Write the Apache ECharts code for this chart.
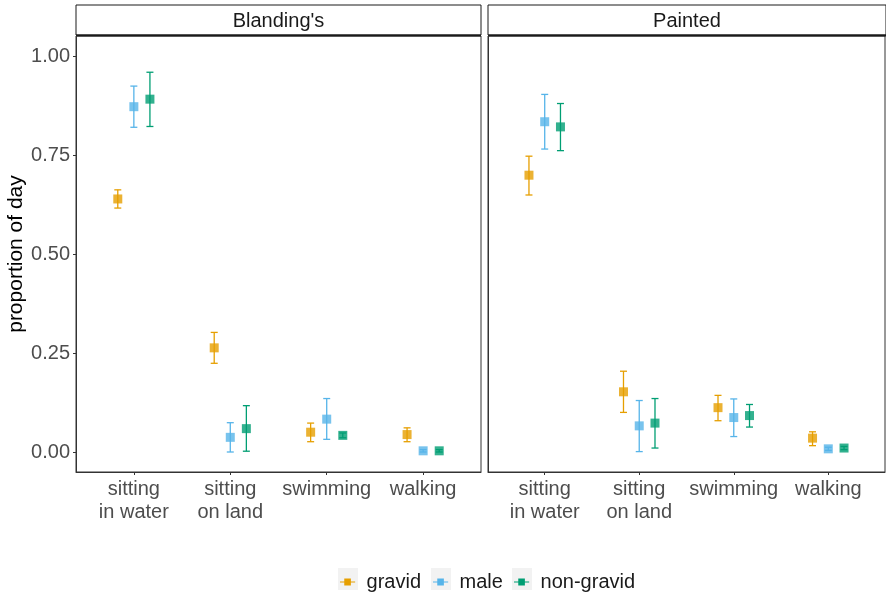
<!DOCTYPE html>
<html>
<head>
<meta charset="utf-8">
<script src="https://cdn.jsdelivr.net/npm/echarts@6/dist/echarts.min.js"></script>
<style>
  html, body { margin: 0; padding: 0; background: #fff; }
  #chart { width: 886px; height: 595px; }
</style>
</head>
<body>
<div id="chart"></div>
<script>
// 数据
var categories = ['sitting\nin water', 'sitting\non land', 'swimming', 'walking'];
var yTicks = [0, 0.25, 0.5, 0.75, 1];
var groups = ['gravid', 'male', 'non-gravid'];
var species = ["Blanding's", 'Painted'];

var blandingGravidMean = [0.639, 0.263, 0.050, 0.044];
var blandingGravidLow = [0.616, 0.224, 0.026, 0.026];
var blandingGravidHigh = [0.662, 0.302, 0.073, 0.061];
var blandingMaleMean = [0.872, 0.037, 0.083, 0.003];
var blandingMaleLow = [0.820, 0.000, 0.032, 0.000];
var blandingMaleHigh = [0.924, 0.074, 0.135, 0.006];
var blandingNonGravidMean = [0.891, 0.059, 0.042, 0.003];
var blandingNonGravidLow = [0.822, 0.002, 0.036, 0.000];
var blandingNonGravidHigh = [0.959, 0.117, 0.048, 0.006];

var paintedGravidMean = [0.699, 0.152, 0.112, 0.035];
var paintedGravidLow = [0.649, 0.100, 0.079, 0.016];
var paintedGravidHigh = [0.747, 0.204, 0.143, 0.051];
var paintedMaleMean = [0.834, 0.066, 0.087, 0.008];
var paintedMaleLow = [0.765, 0.001, 0.039, 0.004];
var paintedMaleHigh = [0.903, 0.130, 0.134, 0.012];
var paintedNonGravidMean = [0.821, 0.073, 0.092, 0.010];
var paintedNonGravidLow = [0.761, 0.010, 0.063, 0.006];
var paintedNonGravidHigh = [0.880, 0.135, 0.120, 0.014];

(function () {
  var myChart = echarts.init(document.getElementById('chart'));
  var font = 'Liberation Sans, Arial, sans-serif';
  var colors = ['#E69F00', '#56B4E9', '#009E73'];
  var dodge = [-1 / 6, 0, 1 / 6];

  // 每个面板的数据 [mean, low, high]
  var panels = [
    [
      [blandingGravidMean, blandingGravidLow, blandingGravidHigh],
      [blandingMaleMean, blandingMaleLow, blandingMaleHigh],
      [blandingNonGravidMean, blandingNonGravidLow, blandingNonGravidHigh]
    ],
    [
      [paintedGravidMean, paintedGravidLow, paintedGravidHigh],
      [paintedMaleMean, paintedMaleLow, paintedMaleHigh],
      [paintedNonGravidMean, paintedNonGravidLow, paintedNonGravidHigh]
    ]
  ];

  var grids = [
    { left: 76, top: 36, width: 405, height: 436 },
    { left: 488, top: 36, width: 397, height: 436 }
  ];

  var xAxes = [], yAxes = [], series = [];
  grids.forEach(function (g, gi) {
    g.show = true;
    g.borderColor = '#333';
    g.borderWidth = 1;
    g.backgroundColor = '#fff';
    xAxes.push({
      type: 'value',
      gridIndex: gi,
      min: 0.4,
      max: 4.6,
      splitLine: { show: false },
      axisLine: { show: true, onZero: false, lineStyle: { color: '#333', width: 1 } },
      axisTick: { show: true, length: 3, customValues: [1, 2, 3, 4], lineStyle: { color: '#333' } },
      axisLabel: {
        customValues: [1, 2, 3, 4],
        formatter: function (v) { return categories[Math.round(v) - 1]; },
        color: '#4D4D4D',
        fontSize: 20,
        fontFamily: font,
        lineHeight: 23,
        margin: 6
      }
    });
    yAxes.push({
      type: 'value',
      gridIndex: gi,
      min: -0.0505,
      max: 1.0505,
      splitLine: { show: false },
      axisLine: { show: true, onZero: false, lineStyle: { color: '#333', width: 1 } },
      axisTick: { show: gi === 0, length: 3, customValues: yTicks, lineStyle: { color: '#333' } },
      axisLabel: {
        show: gi === 0,
        customValues: yTicks,
        formatter: function (v) { return v.toFixed(2); },
        color: '#4D4D4D',
        fontSize: 20,
        fontFamily: font,
        margin: 6
      },
      name: gi === 0 ? 'proportion of day' : '',
      nameLocation: 'middle',
      nameGap: 48,
      nameTextStyle: { color: '#000', fontSize: 21, fontFamily: font }
    });

    groups.forEach(function (name, k) {
      var d = panels[gi][k];
      var barData = [], pointData = [];
      for (var i = 0; i < categories.length; i++) {
        var x = i + 1 + dodge[k];
        barData.push([x, d[1][i], d[2][i]]);
        pointData.push([x, d[0][i]]);
      }
      // 误差线
      series.push({
        name: name,
        type: 'custom',
        xAxisIndex: gi,
        yAxisIndex: gi,
        color: colors[k],
        data: barData,
        renderItem: function (params, api) {
          var x = api.value(0);
          var lo = api.coord([x, api.value(1)]);
          var hi = api.coord([x, api.value(2)]);
          var half = 3.5;
          var style = { stroke: colors[k], lineWidth: 1.3, fill: null };
          return {
            type: 'group',
            children: [
              { type: 'line', shape: { x1: lo[0], y1: lo[1], x2: hi[0], y2: hi[1] }, style: style },
              { type: 'line', shape: { x1: lo[0] - half, y1: lo[1], x2: lo[0] + half, y2: lo[1] }, style: style },
              { type: 'line', shape: { x1: hi[0] - half, y1: hi[1], x2: hi[0] + half, y2: hi[1] }, style: style }
            ]
          };
        },
        z: 2
      });
      // 点
      series.push({
        name: name,
        type: 'scatter',
        xAxisIndex: gi,
        yAxisIndex: gi,
        symbol: 'rect',
        symbolSize: 9,
        itemStyle: { color: colors[k] },
        data: pointData,
        z: 3
      });
    });
  });

  // 分面标题
  var graphics = [];
  var strips = [[76, 405], [488, 398]];
  strips.forEach(function (s, i) {
    graphics.push({
      type: 'rect',
      shape: { x: s[0], y: 5, width: s[1], height: 30 },
      style: { fill: '#fff', stroke: '#1a1a1a', lineWidth: 1 }
    });
    graphics.push({
      type: 'rect',
      shape: { x: s[0], y: 34.5, width: s[1], height: 2 },
      style: { fill: '#1a1a1a' }
    });
    graphics.push({
      type: 'text',
      x: s[0] + s[1] / 2,
      y: 21,
      style: {
        text: species[i],
        fill: '#1a1a1a',
        fontSize: 20,
        fontFamily: font,
        align: 'center',
        verticalAlign: 'middle'
      }
    });
  });

  // 图例背景
  var keyLeft = [338, 431, 512];
  keyLeft.forEach(function (x) {
    graphics.push({
      type: 'rect',
      shape: { x: x, y: 568, width: 20, height: 22 },
      style: { fill: '#F2F2F2' }
    });
  });

  var keyIcon = 'path://M0,3.1H4.5V0H11.5V3.1H16V4.3H11.5V7.4H4.5V4.3H0Z';
  var legends = groups.map(function (name, k) {
    return {
      data: [name],
      left: keyLeft[k] + 2,
      top: 572,
      padding: 0,
      itemWidth: 16,
      itemHeight: 7,
      icon: keyIcon,
      selectedMode: false,
      textStyle: { color: '#1a1a1a', fontSize: 20, fontFamily: font, padding: [0, 0, 0, 6] }
    };
  });

  var option = {
    animation: false,
    backgroundColor: '#fff',
    grid: grids,
    xAxis: xAxes,
    yAxis: yAxes,
    legend: legends,
    graphic: graphics,
    series: series
  };
  myChart.setOption(option);
})();
</script>
</body>
</html>
